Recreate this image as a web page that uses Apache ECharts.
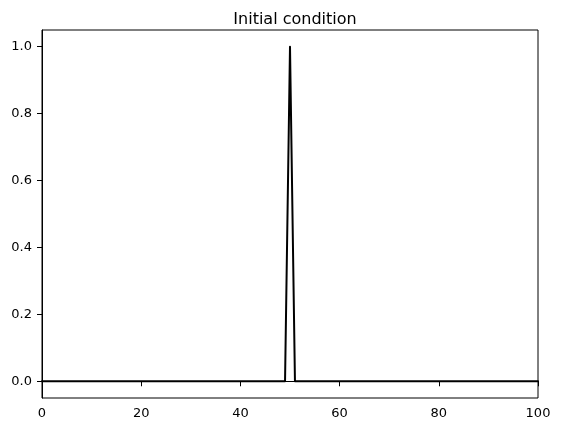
<!DOCTYPE html>
<html>
<head>
<meta charset="utf-8">
<script src="https://cdn.jsdelivr.net/npm/echarts@6/dist/echarts.min.js"></script>
<style>
html,body{margin:0;padding:0;background:#fff;}
#chart{width:561px;height:433px;}
</style>
</head>
<body>
<div id="chart"></div>
<script>
const titleText = 'Initial condition';
const xValues = [0, 49, 50, 51, 100];
const yValues = [0, 0, 1, 0, 0];
const yTicks = [0.0, 0.2, 0.4, 0.6, 0.8, 1.0];
const xTicks = [0, 20, 40, 60, 80, 100];

const seriesData = xValues.map((x, i) => [x, yValues[i]]);
const font = 'DejaVu Sans';

const chart = echarts.init(document.getElementById('chart'), null, {renderer: 'canvas'});
chart.setOption({
  animation: false,
  backgroundColor: '#fff',
  title: {
    text: titleText,
    left: 290, top: 7, textAlign: 'center',
    textStyle: {fontFamily: font, fontSize: 16, fontWeight: 'normal', color: '#000'}
  },
  grid: {
    left: 42, right: 23, top: 30, bottom: 35,
    show: true, borderColor: '#000', borderWidth: 1, backgroundColor: 'transparent'
  },
  xAxis: {
    type: 'value', min: 0, max: 100,
    axisLine: {show: true, lineStyle: {color: '#000', width: 1}},
    axisTick: {show: true, length: 5, inside: false, lineStyle: {color: '#000'}, customValues: xTicks},
    axisLabel: {customValues: xTicks, margin: 9, fontFamily: font, fontSize: 13, color: '#000'},
    splitLine: {show: false}
  },
  yAxis: {
    type: 'value', min: -0.05, max: 1.05,
    axisLine: {show: true, lineStyle: {color: '#000', width: 1}},
    axisTick: {show: true, length: 5, inside: false, lineStyle: {color: '#000'}, customValues: yTicks},
    axisLabel: {customValues: yTicks, margin: 10, fontFamily: font, fontSize: 13, color: '#000',
      formatter: v => Number(v).toFixed(1)},
    splitLine: {show: false}
  },
  series: [{
    type: 'line',
    data: seriesData,
    showSymbol: false,
    symbol: 'none',
    lineStyle: {color: '#000', width: 2, join: 'round', cap: 'round'},
    clip: true
  }]
});
</script>
</body>
</html>
